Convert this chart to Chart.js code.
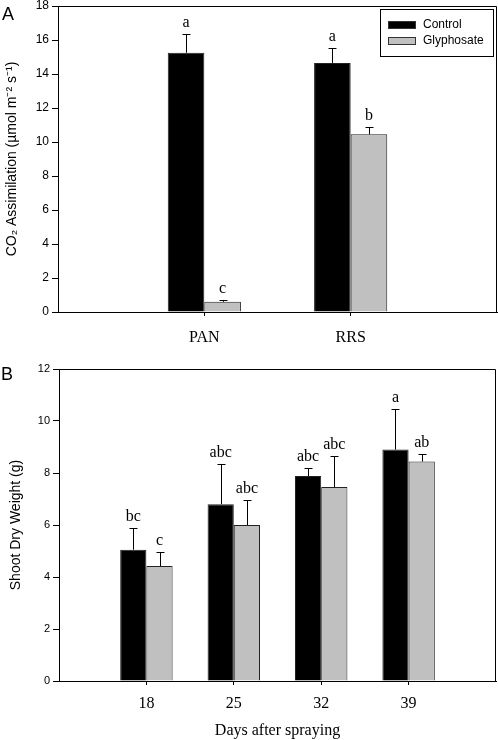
<!DOCTYPE html>
<html lang="en">
<head>
<meta charset="UTF-8">
<title>CO2 assimilation and shoot dry weight</title>
<script src="https://cdn.jsdelivr.net/npm/chart.js"></script>
<style>
  body { margin: 0; background: #fff; }
  .panel { position: relative; width: 498px; }
  #panelA { height: 350px; }
  #panelB { height: 390px; }
</style>
</head>
<body>
<div class="panel" id="panelA"><canvas id="chartA"></canvas></div>
<div class="panel" id="panelB"><canvas id="chartB"></canvas></div>
<script>
// Panel A: CO2 assimilation
const assimCats = ['', 'PAN', 'RRS', ''];
const assimControl = [null, 15.25, 14.65, null];
const assimControlErr = [null, 1.1, 0.88, null];
const assimGlyph = [null, 0.6, 10.45, null];
const assimGlyphErr = [null, 0.08, 0.42, null];
const assimControlLetters = ['', 'a', 'a', ''];
const assimGlyphLetters = ['', 'c', 'b', ''];
const assimTicks = [0, 2, 4, 6, 8, 10, 12, 14, 16, 18];

// Panel B: shoot dry weight
const dayCats = ['', '18', '25', '32', '39', ''];
const weightControl = [null, 5.05, 6.8, 7.88, 8.9, null];
const weightControlErr = [null, 0.83, 1.55, 0.3, 1.55, null];
const weightGlyph = [null, 4.42, 6.0, 7.46, 8.44, null];
const weightGlyphErr = [null, 0.56, 0.98, 1.2, 0.3, null];
const weightControlLetters = ['', 'bc', 'abc', 'abc', 'a', ''];
const weightGlyphLetters = ['', 'c', 'abc', 'abc', 'ab', ''];
const weightTicks = [0, 2, 4, 6, 8, 10, 12];

const seriesNames = ['Control', 'Glyphosate'];
const seriesColors = ['#000000', '#c0c0c0'];

const SANS = "'Liberation Sans', Arial, sans-serif";
const SERIF = "'Liberation Serif', 'Times New Roman', serif";

// error bars, letters, frame, panel letter and legend
const figureExtras = {
  id: 'figureExtras',
  afterDatasetsDraw(chart) {
    const ctx = chart.ctx;
    const y = chart.scales.y;
    ctx.save();
    ctx.strokeStyle = '#000';
    ctx.lineWidth = 1;
    ctx.fillStyle = '#000';
    ctx.font = '16px ' + SERIF;
    ctx.textAlign = 'center';
    ctx.textBaseline = 'alphabetic';
    chart.data.datasets.forEach((ds, di) => {
      const meta = chart.getDatasetMeta(di);
      meta.data.forEach((bar, i) => {
        const v = ds.data[i];
        if (v == null) return;
        const top = Math.round(y.getPixelForValue(v + ds.errors[i])) + 0.5;
        const x = Math.round(bar.x) + 0.5;
        ctx.beginPath();
        ctx.moveTo(x, bar.y);
        ctx.lineTo(x, top);
        ctx.moveTo(x - 4, top);
        ctx.lineTo(x + 4, top);
        ctx.stroke();
        ctx.fillText(ds.letters[i], bar.x, top - 8);
      });
    });
    ctx.restore();
  },
  afterDraw(chart, args, opts) {
    const ctx = chart.ctx;
    const a = chart.chartArea;
    ctx.save();
    ctx.strokeStyle = '#000';
    ctx.lineWidth = 1;
    ctx.beginPath();
    ctx.moveTo(Math.round(a.left), Math.round(a.top) + 0.5);
    ctx.lineTo(Math.round(a.right) - 0.5, Math.round(a.top) + 0.5);
    ctx.lineTo(Math.round(a.right) - 0.5, Math.round(a.bottom));
    ctx.stroke();

    ctx.fillStyle = '#000';
    ctx.font = '18px ' + SANS;
    ctx.textAlign = 'left';
    ctx.textBaseline = 'alphabetic';
    ctx.fillText(opts.panel, opts.panelX, opts.panelY);

    if (opts.legend) {
      const bx = 380.5, by = 9.5, bw = 113, bh = 47;
      ctx.strokeRect(bx, by, bw, bh);
      ctx.font = '12px ' + SANS;
      ctx.textBaseline = 'middle';
      chart.data.datasets.forEach((ds, di) => {
        const ry = 25 + di * 16;
        ctx.fillStyle = ds.backgroundColor;
        ctx.fillRect(388, ry - 4, 28, 8);
        ctx.strokeStyle = '#333';
        ctx.strokeRect(388.5, ry - 3.5, 27, 7);
        ctx.fillStyle = '#000';
        ctx.fillText(ds.label, 423, ry);
      });
    }
    ctx.restore();
  }
};

function makeDatasets(values, errors, letters, cp) {
  return values.map((vals, k) => ({
    label: seriesNames[k],
    data: vals,
    errors: errors[k],
    letters: letters[k],
    backgroundColor: seriesColors[k],
    borderColor: '#222',
    borderWidth: 1,
    categoryPercentage: cp,
    barPercentage: 1.0
  }));
}

function makeOptions(cfg) {
  return {
    responsive: true,
    maintainAspectRatio: false,
    animation: false,
    devicePixelRatio: 1,
    layout: { padding: cfg.padding },
    plugins: {
      legend: { display: false },
      tooltip: { enabled: false },
      figureExtras: cfg.extras
    },
    scales: {
      x: {
        type: 'category',
        offset: false,
        grid: {
          offset: false,
          drawOnChartArea: false,
          drawTicks: true,
          tickLength: 4,
          color: (c) => (c.tick && c.tick.label === '') ? 'rgba(0,0,0,0)' : '#000'
        },
        border: { color: '#000', width: 1 },
        ticks: {
          autoSkip: false,
          maxRotation: 0,
          color: '#000',
          padding: cfg.xPad,
          font: { family: SERIF, size: 16 }
        },
        title: cfg.xTitle,
        afterFit: (s) => {
          s.height = cfg.xHeight;
          s.paddingLeft = 0;
          s.paddingRight = 0;
        }
      },
      y: {
        min: cfg.ticks[0],
        max: cfg.ticks[cfg.ticks.length - 1],
        afterBuildTicks: (s) => { s.ticks = cfg.ticks.map(v => ({ value: v })); },
        grid: { drawOnChartArea: false, tickLength: 6, color: '#000' },
        border: { color: '#000', width: 1 },
        ticks: { color: '#000', padding: 3, font: { family: SANS, size: cfg.yFont } },
        title: {
          display: true,
          text: cfg.yTitle,
          color: '#000',
          font: { family: SANS, size: 14 },
          padding: { top: cfg.yTitlePad, bottom: 0 }
        },
        afterFit: (s) => {
          s.width = cfg.yWidth;
          s.paddingTop = 6;
          s.paddingBottom = 0;
        }
      }
    }
  };
}

new Chart(document.getElementById('chartA'), {
  type: 'bar',
  data: {
    labels: assimCats,
    datasets: makeDatasets([assimControl, assimGlyph], [assimControlErr, assimGlyphErr],
      [assimControlLetters, assimGlyphLetters], 0.5)
  },
  options: makeOptions({
    padding: { top: 0, right: 1, left: 0, bottom: 0 },
    ticks: assimTicks,
    yFont: 12,
    yTitle: 'CO\u2082 Assimilation (\u00b5mol m\u207b\u00b2 s\u207b\u00b9)',
    yTitlePad: 4,
    yWidth: 58,
    xHeight: 38,
    xPad: 12,
    xTitle: { display: false },
    extras: { panel: 'A', panelX: 2, panelY: 20, legend: true }
  }),
  plugins: [figureExtras]
});

new Chart(document.getElementById('chartB'), {
  type: 'bar',
  data: {
    labels: dayCats,
    datasets: makeDatasets([weightControl, weightGlyph], [weightControlErr, weightGlyphErr],
      [weightControlLetters, weightGlyphLetters], 0.6)
  },
  options: makeOptions({
    padding: { top: 19, right: 2, left: 0, bottom: 0 },
    ticks: weightTicks,
    yFont: 11,
    yTitle: 'Shoot Dry Weight (g)',
    yTitlePad: 8,
    yWidth: 59,
    xHeight: 59,
    xPad: 9,
    xTitle: {
      display: true,
      text: 'Days after spraying',
      color: '#000',
      font: { family: SERIF, size: 16 },
      padding: { top: 4, bottom: 0 }
    },
    extras: { panel: 'B', panelX: 1, panelY: 30, legend: false }
  }),
  plugins: [figureExtras]
});
</script>
</body>
</html>
